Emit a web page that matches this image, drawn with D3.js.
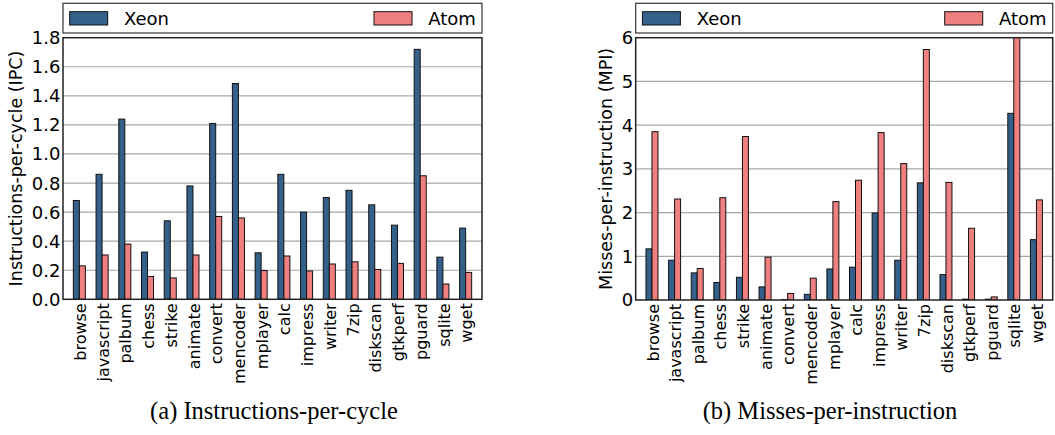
<!DOCTYPE html>
<html>
<head>
<meta charset="utf-8">
<script src="https://cdn.jsdelivr.net/npm/d3@7"></script>
<style>
  body { margin: 0; background: #fff; }
  svg { display: block; }
</style>
</head>
<body>
<script>
// benchmarks, one group of two bars each
const benchmarks = ["browse", "javascript", "palbum", "chess", "strike", "animate",
  "convert", "mencoder", "mplayer", "calc", "impress", "writer", "7zip",
  "diskscan", "gtkperf", "pguard", "sqlite", "wget"];
const seriesNames = ["Xeon", "Atom"];

// (a) instructions per cycle
const ipcXeon = [0.68, 0.86, 1.24, 0.325, 0.54, 0.78, 1.21, 1.485, 0.32, 0.86,
  0.60, 0.70, 0.75, 0.65, 0.51, 1.72, 0.29, 0.49];
const ipcAtom = [0.23, 0.305, 0.38, 0.157, 0.147, 0.305, 0.57, 0.56, 0.198, 0.298,
  0.195, 0.243, 0.258, 0.205, 0.247, 0.85, 0.105, 0.185];
const ipcTicks = [0, 0.2, 0.4, 0.6, 0.8, 1.0, 1.2, 1.4, 1.6, 1.8];

// (b) misses per instruction
const mpiXeon = [1.17, 0.91, 0.62, 0.40, 0.52, 0.30, 0.01, 0.13, 0.71, 0.75,
  1.99, 0.91, 2.68, 0.58, 0.02, 0.02, 4.27, 1.38];
const mpiAtom = [3.85, 2.31, 0.72, 2.34, 3.74, 0.98, 0.15, 0.50, 2.25, 2.74,
  3.83, 3.12, 5.73, 2.69, 1.64, 0.07, 6.3, 2.29];
const mpiTicks = [0, 1, 2, 3, 4, 5, 6];

const colors = ["#34608a", "#f08080"];
const W = 1055, H = 435;

const svg = d3.select("body").append("svg")
  .attr("width", W)
  .attr("height", H)
  .style("font-family", "'DejaVu Sans', sans-serif");

function drawPanel(p) {
  const g = svg.append("g");

  let x = d3.scaleLinear().domain([-0.72, benchmarks.length - 1 + 0.72]).range([p.left, p.right]);
  let y = d3.scaleLinear().domain([0, p.yMax]).range([p.bottom, p.top]);
  const bw = 0.265;

  // clip so tall bars stop at the frame
  g.append("clipPath").attr("id", p.id + "clip")
    .append("rect")
      .attr("x", p.left).attr("y", p.top)
      .attr("width", p.right - p.left).attr("height", p.bottom - p.top);

  // grid
  g.selectAll(".grid").data(p.ticks.slice(1, -1))
    .enter().append("line")
      .attr("x1", p.left).attr("x2", p.right)
      .attr("y1", d => y(d)).attr("y2", d => y(d))
      .attr("stroke", "#a8a8a8")
      .attr("stroke-width", 1.2);

  const bars = g.append("g").attr("clip-path", "url(#" + p.id + "clip)");
  [p.xeon, p.atom].forEach(function(vals, s){
    bars.selectAll(".s" + s).data(vals)
      .enter().append("rect")
        .attr("x", (d, i) => x(i + (s - 1) * bw))
        .attr("y", d => y(d))
        .attr("width", x(bw) - x(0))
        .attr("height", d => y(0) - y(d))
        .attr("fill", colors[s])
        .attr("stroke", "#111")
        .attr("stroke-width", 1);
  });

  // frame
  g.append("rect")
    .attr("x", p.left).attr("y", p.top)
    .attr("width", p.right - p.left).attr("height", p.bottom - p.top)
    .attr("fill", "none")
    .attr("stroke", "#222")
    .attr("stroke-width", 1.5);

  // y tick labels
  g.selectAll(".yt").data(p.ticks)
    .enter().append("text")
      .attr("x", p.left - 2.5)
      .attr("y", d => y(d))
      .attr("dy", "0.36em")
      .attr("text-anchor", "end")
      .attr("font-size", 18)
      .text(p.fmt);

  // x tick labels
  g.selectAll(".xt").data(benchmarks)
    .enter().append("text")
      .attr("transform", (d, i) => "translate(" + (x(i) + 1) + "," + (p.bottom + 4) + ") rotate(-90)")
      .attr("dy", "0.35em")
      .attr("text-anchor", "end")
      .attr("font-size", 16)
      .text(d => d);

  // y axis title
  g.append("text")
    .attr("transform", "translate(" + p.labelX + "," + ((p.top + p.bottom) / 2) + ") rotate(-90)")
    .attr("dy", "0.35em")
    .attr("text-anchor", "middle")
    .attr("font-size", 17.5)
    .text(p.label);

  // legend
  const lg = g.append("g");
  lg.append("rect")
    .attr("x", p.left).attr("y", 3.3)
    .attr("width", p.right - p.left).attr("height", 29.7)
    .attr("fill", "#fff")
    .attr("stroke", "#333")
    .attr("stroke-width", 1.2);
  const patchX = [p.left + 6.7, p.right - 108];
  seriesNames.forEach(function(name, s){
    lg.append("rect")
      .attr("x", patchX[s]).attr("y", 11.7)
      .attr("width", 38).attr("height", 13.3)
      .attr("fill", colors[s])
      .attr("stroke", "#111")
      .attr("stroke-width", 1);
    lg.append("text")
      .attr("x", patchX[s] + 54.3)
      .attr("y", 25)
      .attr("font-size", 18)
      .text(name);
  });

  // caption under the panel
  g.append("text")
    .attr("x", p.captionX)
    .attr("y", 419)
    .attr("text-anchor", "middle")
    .attr("font-family", "'Liberation Serif', 'DejaVu Serif', serif")
    .attr("font-size", 24.5)
    .text(p.caption);
}

drawPanel({
  id: "ipc", left: 63, right: 482, top: 37.7, bottom: 299.3,
  yMax: 1.8, ticks: ipcTicks, fmt: d => d.toFixed(1),
  xeon: ipcXeon, atom: ipcAtom,
  label: "Instructions-per-cycle (IPC)", labelX: 16,
  caption: "(a) Instructions-per-cycle", captionX: 274
});

drawPanel({
  id: "mpi", left: 635.7, right: 1052.7, top: 37.7, bottom: 300,
  yMax: 6, ticks: mpiTicks, fmt: d => d,
  xeon: mpiXeon, atom: mpiAtom,
  label: "Misses-per-instruction (MPI)", labelX: 606,
  caption: "(b) Misses-per-instruction", captionX: 830
});
</script>
</body>
</html>
